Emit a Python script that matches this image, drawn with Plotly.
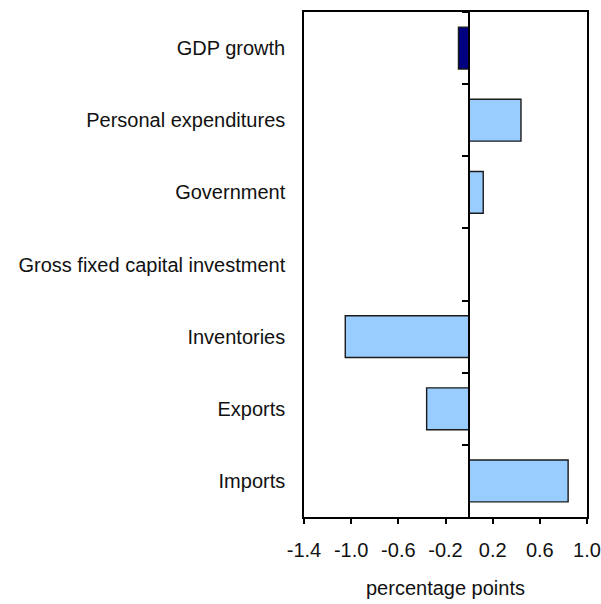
import plotly.graph_objects as go

categories = ["GDP growth", "Personal expenditures", "Government",
              "Gross fixed capital investment", "Inventories", "Exports", "Imports"]
values = [-0.09, 0.44, 0.12, 0.0, -1.05, -0.36, 0.84]
bar_colors = ["#000080", "#99CCFF", "#99CCFF", "#99CCFF", "#99CCFF", "#99CCFF", "#99CCFF"]
x_ticks = [-1.4, -1.0, -0.6, -0.2, 0.2, 0.6, 1.0]
x_tick_labels = ["-1.4", "-1.0", "-0.6", "-0.2", "0.2", "0.6", "1.0"]
x_min, x_max = -1.4, 1.0

font_family = "Liberation Sans, Arial, sans-serif"

fig = go.Figure()
fig.add_trace(go.Bar(
    x=values, y=categories, orientation="h",
    marker=dict(color=bar_colors, line=dict(color="#1a1a1a", width=1.4)),
    width=0.58, hoverinfo="x+y", showlegend=False,
))
# invisible helper trace carrying the zero-line category axis
fig.add_trace(go.Scatter(
    x=[0] * len(categories), y=categories, yaxis="y2", mode="markers",
    marker=dict(opacity=0), hoverinfo="skip", showlegend=False,
))

fig.update_layout(
    width=601, height=604,
    margin=dict(l=304, r=14, t=12, b=87),
    paper_bgcolor="white", plot_bgcolor="white",
    font=dict(family=font_family, size=20, color="#111111"),
    xaxis=dict(
        range=[x_min, x_max], tickvals=x_ticks, ticktext=x_tick_labels,
        ticks="outside", ticklen=5, tickwidth=1.5, tickcolor="black",
        showline=True, linecolor="black", linewidth=1.5, mirror=True,
        showgrid=False, zeroline=False, automargin=False,
        ticklabelstandoff=9,
        title=dict(text="percentage points", standoff=21, font=dict(size=20)),
    ),
    yaxis=dict(
        type="category", categoryorder="array", categoryarray=categories,
        range=[len(categories) - 0.5, -0.5],
        showline=True, linecolor="black", linewidth=1.5, mirror=True,
        showgrid=False, zeroline=False, ticks="", automargin=False,
        ticklabelstandoff=13,
    ),
    yaxis2=dict(
        type="category", categoryorder="array", categoryarray=categories,
        range=[len(categories) - 0.5, -0.5],
        overlaying="y", anchor="free", side="left",
        position=(0 - x_min) / (x_max - x_min),
        showline=True, linecolor="black", linewidth=1.5,
        ticks="outside", tickson="boundaries", ticklen=6, tickwidth=1.5, tickcolor="black",
        showticklabels=False, showgrid=False, zeroline=False,
    ),
)

fig.write_html("out.html", config={"displayModeBar": False},
               post_script="document.body.style.margin='0px';")
